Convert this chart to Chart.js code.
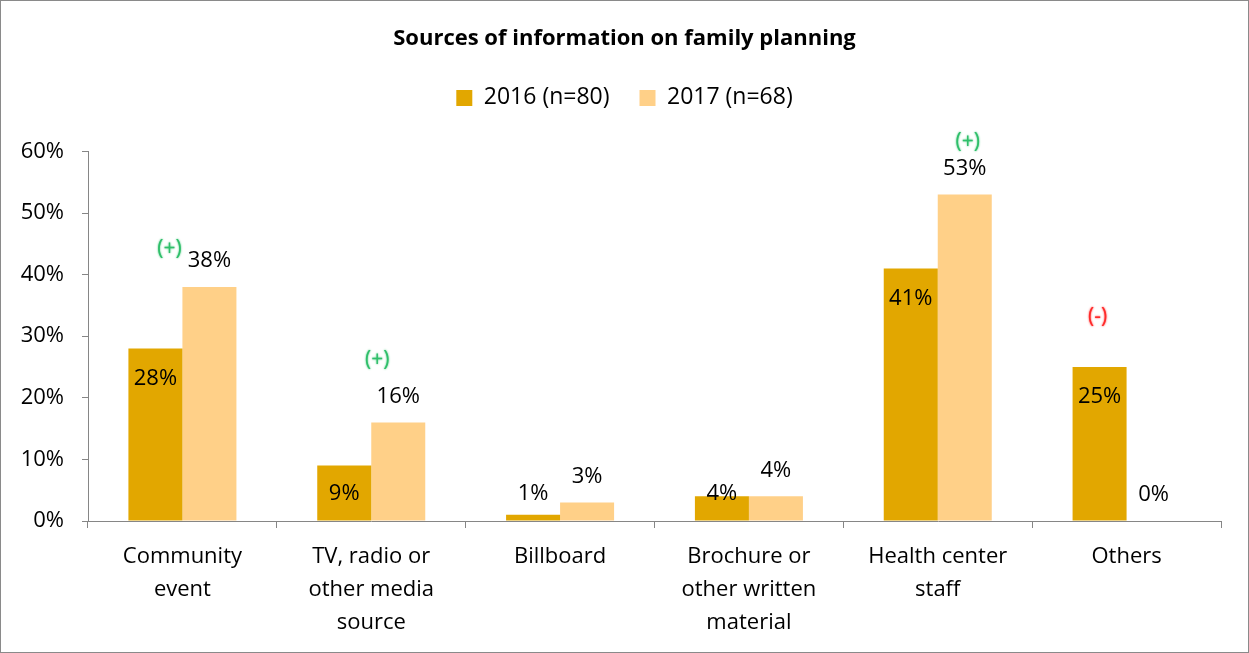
<!DOCTYPE html>
<html>
<head>
<meta charset="utf-8">
<script src="https://cdn.jsdelivr.net/npm/chart.js@4"></script>
<style>
  html, body { margin: 0; padding: 0; background: #fff; }
  #wrap { width: 1249px; height: 653px; box-sizing: border-box; border: 1px solid #8a8a8a; position: relative; }
  canvas { display: block; }
</style>
</head>
<body>
<div id="wrap"><canvas id="c" width="1247" height="651"></canvas></div>
<script>
const categories = [
  ["Community", "event"],
  ["TV, radio or", "other media", "source"],
  ["Billboard"],
  ["Brochure or", "other written", "material"],
  ["Health center", "staff"],
  ["Others"]
];
const series2016 = [28, 9, 1, 4, 41, 25];
const series2017 = [38, 16, 3, 4, 53, 0];
const seriesNames = ["2016 (n=80)", "2017 (n=68)"];
const changeMarks = ["(+)", "(+)", "", "", "(+)", "(-)"];
const yTicks = [0, 10, 20, 30, 40, 50, 60];

const FONT = "'Open Sans', sans-serif";
const AXIS = "#868686";

const labelPlugin = {
  id: 'barLabels',
  afterDatasetsDraw(chart) {
    const ctx = chart.ctx;
    const bottom = chart.chartArea.bottom;
    ctx.save();
    ctx.font = "22px " + FONT;
    ctx.fillStyle = "#000";
    ctx.textAlign = "center";
    ctx.textBaseline = "middle";
    chart.data.datasets.forEach((ds, di) => {
      const meta = chart.getDatasetMeta(di);
      meta.data.forEach((bar, i) => {
        const v = ds.data[i];
        let y;
        if (di === 0) y = Math.min(bar.y + 30, bottom - 27);
        else y = bar.y - 26;
        ctx.fillText(v + "%", bar.x, y);
      });
    });
    ctx.restore();
  }
};

const markPlugin = {
  id: 'changeMarks',
  afterDatasetsDraw(chart, args, opts) {
    const ctx = chart.ctx;
    const xs = chart.scales.x;
    ctx.save();
    ctx.font = "21px " + FONT;
    ctx.textAlign = "center";
    ctx.textBaseline = "middle";
    changeMarks.forEach((m, i) => {
      if (!m) return;
      const off = opts.offsets[i];
      const bar = chart.getDatasetMeta(off.ref).data[i];
      const color = m === "(-)" ? "#ff2a2a" : "#2fbf6a";
      ctx.fillStyle = color;
      ctx.shadowColor = color;
      ctx.shadowBlur = 2;
      ctx.fillText(m, xs.getPixelForValue(i) + off.dx, bar.y + off.dy);
    });
    ctx.restore();
  }
};

const legendSpacer = {
  id: 'legendSpacer',
  beforeInit(chart) {
    const fit = chart.legend.fit;
    chart.legend.fit = function () {
      fit.bind(chart.legend)();
      this.height += 32;
    };
  }
};

new Chart(document.getElementById('c'), {
  type: 'bar',
  data: {
    labels: categories,
    datasets: [
      { label: seriesNames[0], data: series2016, backgroundColor: "#E2A700", borderWidth: 0 },
      { label: seriesNames[1], data: series2017, backgroundColor: "#FFD088", borderWidth: 0 }
    ]
  },
  options: {
    responsive: false,
    animation: false,
    devicePixelRatio: 1,
    layout: { padding: { left: 14, right: 14, top: 0, bottom: 0 } },
    datasets: { bar: { categoryPercentage: 0.572, barPercentage: 1.0 } },
    plugins: {
      title: {
        display: true,
        text: "Sources of information on family planning",
        color: "#000",
        font: { family: FONT, size: 22, weight: 'bold' },
        padding: { top: 25, bottom: 4 }
      },
      legend: {
        display: true,
        labels: {
          color: "#000",
          font: { family: FONT, size: 23 },
          boxWidth: 16, boxHeight: 16, padding: 30
        }
      },
      tooltip: { enabled: false },
      changeMarks: {
        offsets: {
          0: { ref: 1, dx: -13, dy: -38 },
          1: { ref: 1, dx: 6, dy: -62 },
          4: { ref: 1, dx: 30, dy: -53 },
          5: { ref: 0, dx: -29, dy: -50 }
        }
      }
    },
    scales: {
      x: {
        offset: true,
        grid: { display: true, drawOnChartArea: false, offset: true, color: AXIS, tickLength: 7, tickWidth: 1 },
        border: { display: true, color: AXIS, width: 1 },
        ticks: { color: "#000", font: { family: FONT, size: 22, lineHeight: 1.5 }, padding: 12, maxRotation: 0, autoSkip: false },
        afterFit(s) { s.height = 131; }
      },
      y: {
        min: 0, max: 60,
        afterBuildTicks(s) { s.ticks = yTicks.map(v => ({ value: v })); },
        grid: { display: true, drawOnChartArea: false, color: AXIS, tickLength: 6 },
        border: { display: true, color: AXIS, width: 1 },
        ticks: { color: "#000", font: { family: FONT, size: 22 }, padding: 18, callback: v => v + "%" },
        afterFit(s) { s.width = 73; }
      },
      yRight: {
        position: 'right',
        display: true,
        min: 0, max: 60,
        grid: { display: false },
        border: { display: false },
        ticks: { display: false },
        afterFit(s) { s.width = 13; }
      }
    }
  },
  plugins: [labelPlugin, markPlugin, legendSpacer]
});
</script>
</body>
</html>
